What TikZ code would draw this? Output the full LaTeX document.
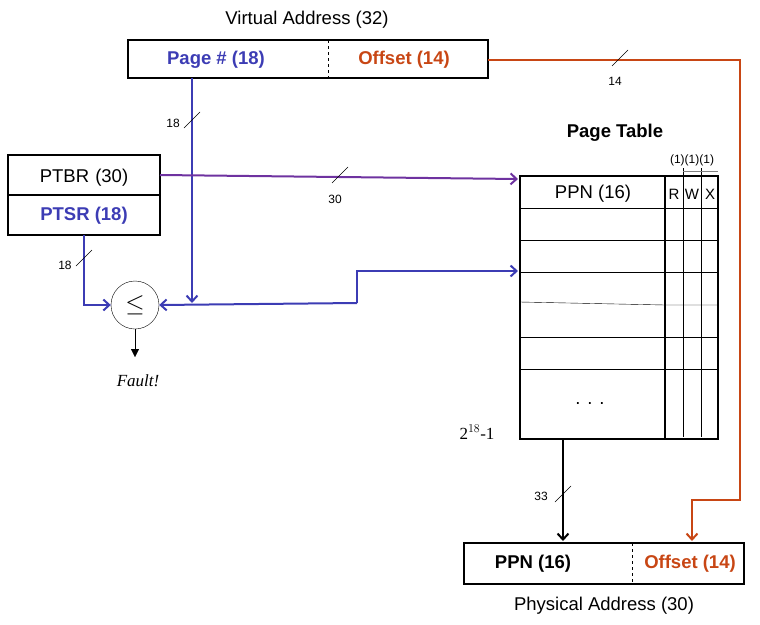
\documentclass[tikz,border=0pt]{standalone}
\usepackage{fontspec}
\setmainfont{Liberation Sans}
\usetikzlibrary{arrows.meta}
\definecolor{vblue}{RGB}{60,60,180}
\definecolor{vorange}{RGB}{200,70,20}
\definecolor{vpurple}{RGB}{110,50,160}
\begin{document}
\begin{tikzpicture}[x=1pt,y=-1pt,
  box/.style={draw,line width=2pt},
  txt/.style={font=\fontsize{18.5}{20}\selectfont},
  btxt/.style={font=\fontsize{18.5}{20}\selectfont\bfseries},
  small/.style={font=\fontsize{12}{13}\selectfont},
  tick/.style={line width=0.6pt},
  wire/.style={line width=2pt},
  arr/.style={-{Straight Barb[length=6pt,width=11pt]}}]
\useasboundingbox (0,0) rectangle (760,624);
% Virtual address
\node[txt] (vat) at (307,20) {Virtual Address (32)};
\draw[box] (128,40) rectangle (488,78);
\draw[dashed,thin] (328,40) -- (328,78);
\node[btxt,text=vblue] (pg) at (216,60) {Page \# (18)};
\node[btxt,text=vorange] (off) at (404,60) {Offset (14)};
% PTBR/PTSR
\draw[box] (8,155) rectangle (160,235);
\draw[line width=2pt] (8,195) -- (160,195);
\node[txt] (ptbr) at (84,178) {PTBR\,\,(30)};
\node[btxt,text=vblue] (ptsr) at (84,216) {PTSR (18)};
% comparator
\node[draw,circle,minimum size=48pt,inner sep=0pt,font=\fontsize{26}{26}\selectfont] (cmp) at (135,305) {$\leq$};
\coordinate (fe) at (135,357);
\draw[-{Triangle[length=8pt,width=8pt]}] (cmp.south) -- (fe);
\node[font=\fontsize{17}{18}\selectfont\fontspec{Liberation Serif}\itshape] (fault) at (138,381) {Fault!};
% page table
\node[font=\fontsize{18.5}{20}\selectfont\bfseries] (ptt) at (615,133) {Page Table};
\draw[box] (520,176) rectangle (718,439);
\draw[line width=2pt] (665,176) -- (665,439);
\draw[thin] (683,168) -- (683,437);
\draw[thin] (701,168) -- (701,437);
\draw[thin,gray] (683,171) -- (718,171);
\foreach \y in {208,240,272,337,369} \draw[thin] (520,\y) -- (718,\y);
\draw[thin] (520,302) -- (665,305) -- (718,305);
\node[txt] (ppn) at (593,194) {PPN (16)};
\node[txt,font=\fontsize{15}{17}\selectfont] (r) at (674,194) {R};
\node[txt,font=\fontsize{15}{17}\selectfont] (w) at (692,194) {W};
\node[txt,font=\fontsize{15}{17}\selectfont] (x) at (710,194) {X};
\node[font=\fontsize{12}{13}\selectfont] (bits) at (692,160) {(1)(1)(1)};
\node[txt] (dots) at (590,404) {. . .};
\node[font=\fontsize{17}{18}\selectfont\fontspec{Liberation Serif}] (max) at (477,432) {2$^{18}$-1};
% physical address
\draw[box] (464,543) rectangle (744,584);
\draw[dashed,thin] (632,543) -- (632,584);
\node[btxt] (pppn) at (533,564) {PPN (16)};
\node[btxt,text=vorange] (poff) at (690,564) {Offset (14)};
\node[txt] (pat) at (604,606) {Physical Address (30)};
% coordinates
\coordinate (pgb) at (192,78);
\coordinate (j) at (192,303);
\coordinate (ptin) at (518,179);
\coordinate (ptbro) at (160,175);
\coordinate (row) at (518,271);
\coordinate (k1) at (357,271);
\coordinate (k2) at (357,303);
\coordinate (pts) at (84,235);
\coordinate (ptsc) at (84,305);
\coordinate (pto) at (563,439);
\coordinate (pai) at (563,541);
\coordinate (o1) at (488,60);
\coordinate (o2) at (740,60);
\coordinate (o3) at (740,500);
\coordinate (o4) at (692,500);
\coordinate (o5) at (692,541);
% wires
\draw[wire,vblue,arr] (pgb) -- (j);
\draw[tick] (184,128) -- (200,112); \node[small] (l18a) at (173,123) {18};
\draw[wire,vpurple,arr] (ptbro) -- (ptin);
\draw[tick] (332,183) -- (348,167); \node[small] (l30) at (335,199) {30};
\draw[wire,vblue,arr] (pts) -- (ptsc) -- (cmp.west);
\draw[tick] (76,266) -- (92,250); \node[small] (l18b) at (65,265) {18};
\draw[wire,vblue,arr] (k2) -- (k1) -- (row);
\draw[wire,vblue,arr] (k2) -- (cmp.east);
\draw[wire,arr] (pto) -- (pai);
\draw[tick] (555,502) -- (571,486); \node[small] (l33) at (541,496) {33};
\draw[wire,vorange,arr] (o1) -- (o2) -- (o3) -- (o4) -- (o5);
\draw[tick] (612,66) -- (628,50); \node[small] (l14) at (615,81) {14};
\end{tikzpicture}
\end{document}
